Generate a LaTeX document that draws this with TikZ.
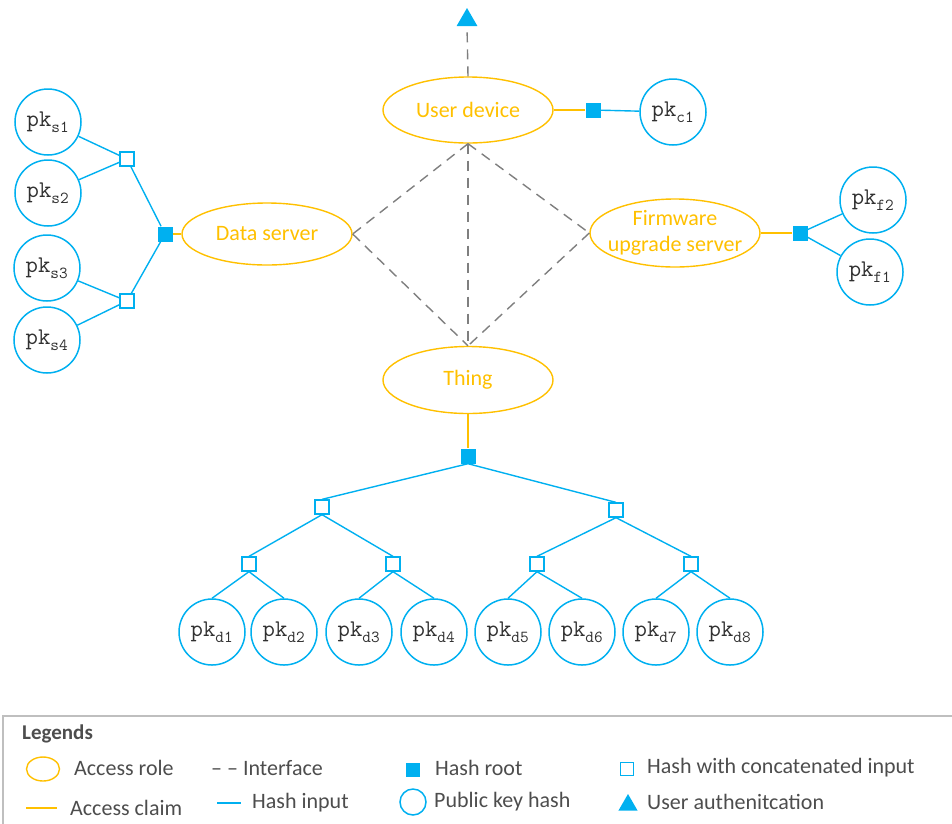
\documentclass[tikz,border=0pt]{standalone}
\usepackage{fontspec}
\setmainfont{Carlito}
\usetikzlibrary{shapes.geometric}
\definecolor{gold}{HTML}{FFC000}
\definecolor{hashblue}{HTML}{00B0F0}
\definecolor{ifgray}{HTML}{7F7F7F}
\definecolor{legtext}{HTML}{4D4D4D}
\definecolor{keytext}{HTML}{303030}
\newcommand\pklab[1]{$\mathtt{pk}_{\mathtt{#1}}$}
\begin{document}
\begin{tikzpicture}[x=1pt,y=-1pt,
  role/.style={ellipse, draw=gold, line width=1.4pt, text=gold, minimum width=170pt,
    minimum height=66pt, inner sep=0pt, align=center,
    font=\fontsize{22}{26}\selectfont},
  pkey/.style={circle, draw=hashblue, line width=1.5pt, fill=white, minimum size=66pt,
    inner sep=0pt, text=keytext, font=\fontsize{24}{26}\selectfont},
  hroot/.style={rectangle, fill=hashblue, minimum size=15pt, inner sep=0pt},
  hcat/.style={rectangle, draw=hashblue, fill=white, line width=1.3pt,
    minimum size=14pt, inner sep=0pt},
  authtip/.style={regular polygon, regular polygon sides=3, fill=hashblue,
    minimum size=24pt, inner sep=0pt},
  claim/.style={draw=gold, line width=1.3pt},
  hin/.style={draw=hashblue, line width=1.4pt},
  iface/.style={draw=ifgray, line width=1.4pt, dash pattern=on 10pt off 7pt},
  legtxt/.style={anchor=west, inner sep=0pt, text=legtext,
    font=\fontsize{22}{24}\selectfont},
]
\clip (0,0) rectangle (952,823);

% access roles
\node[role] (user) at (468,110) {User device};
\node[role, minimum height=62pt] (data) at (267,234) {Data server};
\node[role, minimum height=68pt, inner xsep=-8pt, inner ysep=-2pt] (fw) at (675,233)
  {Firmware\\upgrade server};
\node[role, minimum height=67pt] (thing) at (468,380) {Thing};

% user authentication
\node[authtip] (auth) at (467,20) {};
\draw[iface] (user.north) -- (auth.south);

% interfaces between roles
\draw[iface] (user.south) -- (data.east);
\draw[iface] (user.south) -- (fw.west);
\draw[iface] (user.south) -- (thing.north);
\draw[iface] (data.east) -- (thing.north);
\draw[iface] (fw.west) -- (thing.north);

% user device key
\node[hroot] (rc) at (593,110) {};
\node[pkey] (c1) at (673,112) {\pklab{c1}};
\draw[claim] (user.east) -- (rc.west);
\draw[hin] (rc) -- (c1);

% data server keys
\node[hroot] (rs) at (165,234) {};
\node[hcat] (s12) at (127,159) {};
\node[hcat] (s34) at (127,301) {};
\node[pkey] (s1) at (48,122) {\pklab{s1}};
\node[pkey] (s2) at (48,193) {\pklab{s2}};
\node[pkey] (s3) at (47,268) {\pklab{s3}};
\node[pkey] (s4) at (47,340) {\pklab{s4}};
\draw[claim] (data.west) -- (rs.east);
\draw[hin] (rs) -- (s12);
\draw[hin] (rs) -- (s34);
\draw[hin] (s12) -- (s1);
\draw[hin] (s12) -- (s2);
\draw[hin] (s34) -- (s3);
\draw[hin] (s34) -- (s4);

% firmware server keys
\node[hroot] (rf) at (800,233) {};
\node[pkey] (f2) at (873,200) {\pklab{f2}};
\node[pkey] (f1) at (870,272) {\pklab{f1}};
\draw[claim] (fw.east) -- (rf.west);
\draw[hin] (rf) -- (f2);
\draw[hin] (rf) -- (f1);

% thing key tree
\node[hroot] (rd) at (468,456) {};
\node[hcat] (dL) at (322,507) {};
\node[hcat] (dR) at (616,510) {};
\node[hcat] (d12) at (249,564) {};
\node[hcat] (d34) at (393,564) {};
\node[hcat] (d56) at (537,564) {};
\node[hcat] (d78) at (691,564) {};
\node[pkey] (d1) at (212,632) {\pklab{d1}};
\node[pkey] (d2) at (284,632) {\pklab{d2}};
\node[pkey] (d3) at (359,632) {\pklab{d3}};
\node[pkey] (d4) at (434,632) {\pklab{d4}};
\node[pkey] (d5) at (508,632) {\pklab{d5}};
\node[pkey] (d6) at (582,632) {\pklab{d6}};
\node[pkey] (d7) at (656,632) {\pklab{d7}};
\node[pkey] (d8) at (730,632) {\pklab{d8}};
\draw[claim] (thing.south) -- (rd.north);
\draw[hin] (rd.south) -- (dL.north);
\draw[hin] (rd.south) -- (dR.north);
\draw[hin] (dL.south) -- (d12.north);
\draw[hin] (dL.south) -- (d34.north);
\draw[hin] (dR.south) -- (d56.north);
\draw[hin] (dR.south) -- (d78.north);
\foreach \p/\a/\b in {d12/d1/d2, d34/d3/d4, d56/d5/d6, d78/d7/d8} {
  \draw[hin] (\p.south) -- (\a.north);
  \draw[hin] (\p.south) -- (\b.north);
}

% legend
\draw[draw=black!25, line width=1.2pt] (3,716) rectangle (980,860);
\node[legtxt, font=\bfseries\fontsize{21}{23}\selectfont] (lt) at (22,734) {Legends};

\node[ellipse, draw=gold, line width=1.4pt, minimum width=33pt, minimum height=24pt,
  inner sep=0pt] (lrole) at (43,769) {};
\node[legtxt] (lrolet) at (74,768) {Access role};
\coordinate (lc1) at (26,808);
\coordinate (lc2) at (57,808);
\draw[claim] (lc1) -- (lc2);
\node[legtxt] (lclaimt) at (70,808) {Access claim};

\node[legtxt] (liface) at (211,768) {– – Interface};
\coordinate (lh1) at (217,803);
\coordinate (lh2) at (241,803);
\draw[hin] (lh1) -- (lh2);
\node[legtxt] (lhint) at (252,803) {Hash input};

\node[hroot, minimum size=14pt] (lroot) at (413,770) {};
\node[legtxt] (lroott) at (435,768) {Hash root};
\node[circle, draw=hashblue, line width=1.5pt, minimum size=26pt, inner sep=0pt]
  (lkey) at (413,802) {};
\node[legtxt] (lkeyt) at (434,802) {Public key hash};

\node[hcat, minimum size=13pt] (lcat) at (627,769) {};
\node[legtxt] (lcatt) at (647,768) {Hash with concatenated input};
\node[authtip, minimum size=22pt] (lauth) at (628,805) {};
\node[legtxt] (lautht) at (647,802) {User authenitcation};
\end{tikzpicture}
\end{document}
